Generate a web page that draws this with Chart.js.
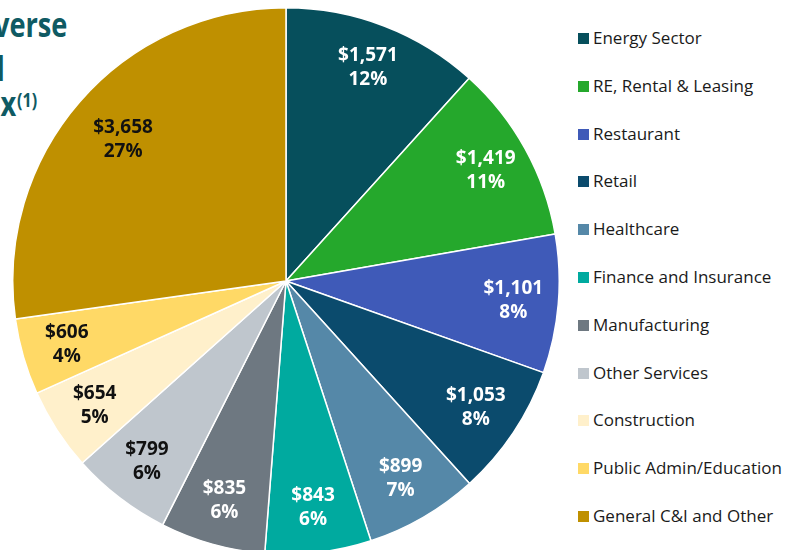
<!DOCTYPE html>
<html>
<head>
<meta charset="utf-8">
<script src="https://cdn.jsdelivr.net/npm/chart.js@4.4.0/dist/chart.umd.min.js"></script>
<style>
  html, body { margin:0; padding:0; width:789px; height:550px; overflow:hidden; background:#fff; }
  body { position:relative; font-family: "Open Sans", Lato, "Liberation Sans", sans-serif; }
  #wrap { position:absolute; left:12px; top:7px; width:548px; height:548px; }
  .t { position:absolute; white-space:nowrap; text-align:right; font-weight:bold; color:#0F5A63; font-size:34px; line-height:34px; transform:scaleX(0.8); transform-origin:right center; }
  .t sup { font-size:20px; vertical-align:top; position:relative; top:-3px; margin-left:1px; }
  #legend { position:absolute; left:578px; top:27px; margin:0; padding:0; list-style:none; }
  #legend li { height:47.8px; display:flex; align-items:flex-start; font-size:17px; color:#1a1a1a; line-height:22px; }
  #legend li span.sw { width:11px; height:11px; margin-right:4px; margin-top:6px; flex:none; }
</style>
</head>
<body>
<div class="t" style="right:722px; top:7px;">Diverse</div>
<div class="t" style="right:784px; top:51px;">Commercial</div>
<div class="t" style="right:752px; top:86px;">Loan Mix<sup>(1)</sup></div>
<div id="wrap"><canvas id="c"></canvas></div>
<ul id="legend"></ul>
<script>
const categories = ["Energy Sector","RE, Rental & Leasing","Restaurant","Retail","Healthcare","Finance and Insurance","Manufacturing","Other Services","Construction","Public Admin/Education","General C&I and Other"];
const values = [1571, 1419, 1101, 1053, 899, 843, 835, 799, 654, 606, 3658];
const percentLabels = ["12%","11%","8%","8%","7%","6%","6%","6%","5%","4%","27%"];
const colors = ["#064F5C","#25A82C","#3F5AB8","#0B4B6D","#5588A8","#00AA9F","#6E7881","#BFC6CD","#FFF0CB","#FFD966","#BF9000"];
const labelColors = ["#fff","#fff","#fff","#fff","#fff","#fff","#fff","#111","#111","#111","#111"];

const fmt = v => "$" + v.toLocaleString("en-US");

const sliceLabels = {
  id: "sliceLabels",
  afterDatasetsDraw(chart) {
    const ctx = chart.ctx;
    const meta = chart.getDatasetMeta(0);
    ctx.save();
    ctx.font = "bold 19px 'Open Sans', Lato, 'Liberation Sans', sans-serif";
    ctx.textAlign = "center";
    ctx.textBaseline = "middle";
    meta.data.forEach((arc, i) => {
      const p = arc.getProps(["x","y","startAngle","endAngle","outerRadius"], true);
      const mid = (p.startAngle + p.endAngle) / 2;
      const r = p.outerRadius * (i === 10 ? 0.79 : 0.835);
      const x = p.x + Math.cos(mid) * r;
      const y = p.y + Math.sin(mid) * r;
      ctx.fillStyle = labelColors[i];
      ctx.fillText(fmt(values[i]), x, y - 12);
      ctx.fillText(percentLabels[i], x, y + 12);
    });
    ctx.restore();
  }
};

new Chart(document.getElementById("c"), {
  type: "pie",
  data: {
    labels: categories,
    datasets: [{ data: values, backgroundColor: colors, borderColor: "#ffffff", borderWidth: 1.5, hoverOffset: 0 }]
  },
  options: {
    responsive: true,
    maintainAspectRatio: false,
    animation: false,
    layout: { padding: 0 },
    plugins: { legend: { display: false }, tooltip: { enabled: false } }
  },
  plugins: [sliceLabels]
});

const lg = document.getElementById("legend");
categories.forEach((c, i) => {
  const li = document.createElement("li");
  const sw = document.createElement("span");
  sw.className = "sw";
  sw.style.background = colors[i];
  li.appendChild(sw);
  li.appendChild(document.createTextNode(c));
  lg.appendChild(li);
});
</script>
</body>
</html>
